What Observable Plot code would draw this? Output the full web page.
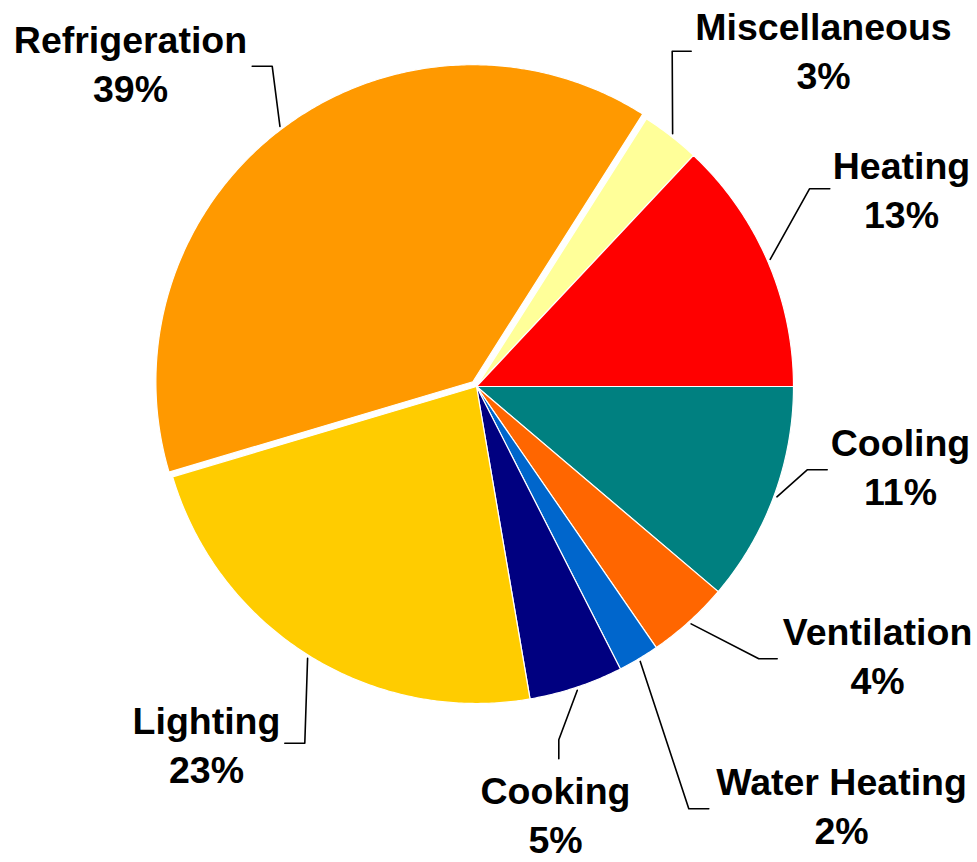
<!DOCTYPE html>
<html>
<head>
<meta charset="utf-8">
<script src="https://cdn.jsdelivr.net/npm/d3@7"></script>
<script src="https://cdn.jsdelivr.net/npm/@observablehq/plot@0.6"></script>
<style>
  html, body { margin: 0; padding: 0; background: #ffffff; }
  svg { display: block; }
</style>
</head>
<body>
<div id="chart"></div>
<script>
// ---- Data (clockwise from 3 o'clock) ----
const categories = ["Cooling", "Ventilation", "Water Heating", "Cooking", "Lighting", "Refrigeration", "Miscellaneous", "Heating"];
// slice sizes (percent of total)
const shares = [11.2, 4.2, 2.1, 4.8, 23.1, 38.6, 3.0, 13.0];
// percentage labels printed on the chart
const percentLabels = ["11%", "4%", "2%", "5%", "23%", "39%", "3%", "13%"];
const colors = ["#008080", "#FF6600", "#0066CC", "#000080", "#FFCC00", "#FF9900", "#FFFF99", "#FF0000"];
const exploded = ["Refrigeration"];

// ---- Layout (pixel space of the 977x862 frame) ----
const W = 977, H = 862;
const CX = 476, CY = 386, R = 317;
const explodePx = 6;
// label block centres
const labelPos = {
  "Cooling": [900, 464],
  "Ventilation": [877, 653],
  "Water Heating": [841, 803],
  "Cooking": [555, 812],
  "Lighting": [206, 742],
  "Refrigeration": [130, 61],
  "Miscellaneous": [823, 48],
  "Heating": [901, 187]
};
// leader elbow and end points
const leaderPts = {
  "Cooling": [[806.7, 469.3], [826.7, 469.3]],
  "Ventilation": [[758.3, 658.3], [776.7, 658.3]],
  "Water Heating": [[688.3, 808.3], [708.3, 808.3]],
  "Cooking": [[558.3, 739.3], [558.3, 758.3]],
  "Lighting": [[304.3, 742.7], [284.3, 742.7]],
  "Refrigeration": [[271.7, 65.7], [251.7, 65.7]],
  "Miscellaneous": [[671.7, 50.7], [690.7, 50.7]],
  "Heating": [[809, 188.3], [829.3, 188.3]]
};

// data units: pie radius = 1, centre = (0,0), y up
const px2x = px => (px - CX) / R;
const py2y = py => (CY - py) / R;
const rad = d => d * Math.PI / 180;
const total = d3.sum(shares);

// ---- Build slice polygons ----
const slicePts = [];
const leaderRows = [];
const labelRows = [];
let acc = 0;
categories.forEach((name, i) => {
  const a0 = acc / total * 360;
  const a1 = (acc + shares[i]) / total * 360;
  acc += shares[i];
  const mid = (a0 + a1) / 2;
  const off = exploded.includes(name) ? explodePx / R : 0;
  const ox = off * Math.cos(rad(mid)), oy = -off * Math.sin(rad(mid));
  slicePts.push({name, x: ox, y: oy});
  const steps = Math.max(2, Math.ceil((a1 - a0) / 0.5));
  for (let k = 0; k <= steps; k++) {
    const a = a0 + (a1 - a0) * k / steps;
    slicePts.push({name, x: ox + Math.cos(rad(a)), y: oy - Math.sin(rad(a))});
  }
  slicePts.push({name, x: ox, y: oy});

  // leader: from rim at mid angle -> elbow -> end
  const rr = 1 + 3 / R;
  leaderRows.push({name, x: ox + rr * Math.cos(rad(mid)), y: oy - rr * Math.sin(rad(mid))});
  for (const [px, py] of leaderPts[name]) leaderRows.push({name, x: px2x(px), y: py2y(py)});

  const [lx, ly] = labelPos[name];
  labelRows.push({name, x: px2x(lx), y: py2y(ly), text: `${name}\n${percentLabels[i]}`});
});

const chart = Plot.plot({
  width: W,
  height: H,
  margin: 0,
  x: {domain: [px2x(0), px2x(W)], axis: null},
  y: {domain: [py2y(H), py2y(0)], axis: null},
  color: {domain: categories, range: colors},
  style: {background: "#ffffff"},
  marks: [
    Plot.line(slicePts, {x: "x", y: "y", z: "name", fill: "name", stroke: "#ffffff", strokeWidth: 1.2, curve: "linear"}),
    Plot.line(leaderRows, {x: "x", y: "y", z: "name", stroke: "#000000", strokeWidth: 1.6, curve: "linear"}),
    Plot.text(labelRows, {
      x: "x", y: "y", text: "text",
      fontSize: 37.5, fontWeight: "bold",
      fontFamily: "'Liberation Sans', Arial, sans-serif",
      lineHeight: 1.33, textAnchor: "middle", fill: "#000000"
    })
  ]
});
document.getElementById("chart").appendChild(chart);
</script>
</body>
</html>
